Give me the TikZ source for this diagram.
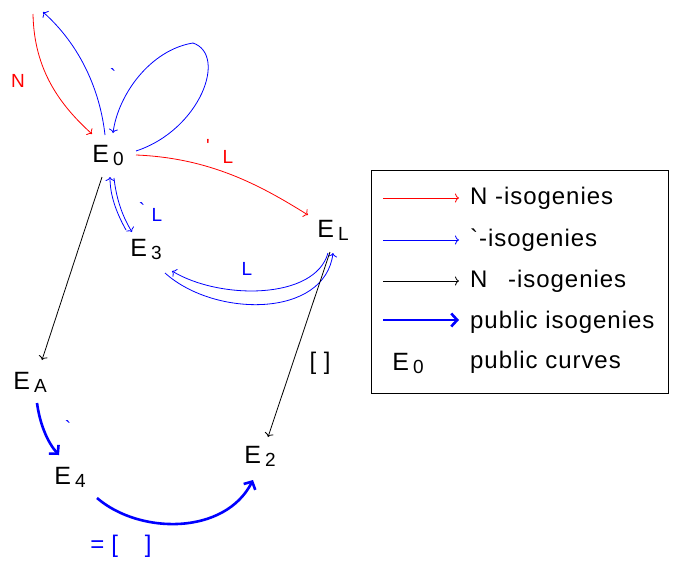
\documentclass[tikz,border=0pt]{standalone}
\usepackage{fontspec}
\newfontfamily\plainfont{Liberation Sans}[LetterSpace=4]
\usetikzlibrary{arrows.meta}
\newcommand\ecurve[1]{E\hspace{4pt}\raisebox{-3pt}{\fontsize{19}{19}\selectfont #1}}
\begin{document}
\begin{tikzpicture}[x=1pt,y=-1pt, font=\plainfont,
  cv/.style={inner sep=0pt, font=\plainfont\fontsize{25}{28}\selectfont},
  lab/.style={inner sep=0pt, font=\plainfont\fontsize{19}{21}\selectfont},
  big/.style={inner sep=0pt, font=\plainfont\fontsize{24}{27}\selectfont},
  leg/.style={inner sep=0pt, anchor=base west, font=\plainfont\fontsize{24}{26}\selectfont},
  thinarr/.style={line width=0.8pt, -{To[length=4pt,width=9pt]}},
  thickarr/.style={line width=2.6pt, -{Straight Barb[length=6pt,width=13pt]}},
  ]
\useasboundingbox (0,0) rectangle (673,570);

% curves
\node[cv] (E0) at (108,155) {\ecurve{0}};
\node[cv] (E3) at (146,249) {\ecurve{3}};
\node[cv] (EL) at (333,230) {\ecurve{L}};
\node[cv] (EA) at (30,382) {\ecurve{A}};
\node[cv] (E4) at (70,477) {\ecurve{4}};
\node[cv] (E2) at (260,456) {\ecurve{2}};

\coordinate (nTop) at (33,14);
\coordinate (lTop) at (43,12);

% red N arrow into E0
\draw[thinarr, red] (nTop) .. controls (34,70) and (60,105) .. ([shift={(-16,-21)}]E0.center);
% blue arrow out of E0 upward
\draw[thinarr, blue] ([shift={(-3,-20)}]E0.center) .. controls (100,90) and (80,45) .. (lTop);
% blue loop
\draw[line width=0.8pt, blue] ([shift={(28,-4)}]E0.center) .. controls (200,130) and (228,55) .. (193,43) coordinate (loopTop);
\draw[thinarr, blue] (loopTop) .. controls (150,50) and (118,95) .. ([shift={(5,-22)}]E0.center);
% red E0 -> EL
\draw[thinarr, red] ([shift={(28,0)}]E0.center) .. controls (210,158) and (260,185) .. ([shift={(-25,-15)}]EL.center);
% blue E0 <-> E3 (parallel)
\draw[thinarr, blue] ([shift={(-20,-19)}]E3.center) .. controls (116,212) and (110,195) .. ([shift={(2,22)}]E0.center);
\draw[thinarr, blue] ([shift={(6,23)}]E0.center) .. controls (116,196) and (121,214) .. ([shift={(-14,-17)}]E3.center);
% blue E3 <-> EL
\draw[thinarr, blue] ([shift={(-5,23)}]EL.center) .. controls (315,300) and (220,300) .. ([shift={(26,22)}]E3.center);
\draw[thinarr, blue] ([shift={(19,24)}]E3.center) .. controls (215,318) and (325,318) .. ([shift={(0,23)}]EL.center);
% black
\draw[thinarr, black] ([shift={(-6,22)}]E0.center) -- ([shift={(12,-22)}]EA.center);
\draw[thinarr, black] ([shift={(-3,22)}]EL.center) -- ([shift={(8,-19)}]E2.center);
% thick public
\draw[thickarr, blue] ([shift={(7,21)}]EA.center) .. controls (40,425) and (48,443) .. ([shift={(-11,-22)}]E4.center);
\draw[thickarr, blue] ([shift={(27,21)}]E4.center) .. controls (140,535) and (225,535) .. ([shift={(-7,24)}]E2.center);

% labels
\node[lab, red] (lN) at (18,81) {N};
\node[lab, blue] (lg1) at (113,76) {`};
\node[lab, red] (lphi) at (208,146) {'};
\node[lab, red] (lL1) at (228,157) {L};
\node[lab, blue] (lg2) at (142,210) {`};
\node[lab, blue] (lL2) at (157,215) {L};
\node[lab, blue] (lL3) at (247,269) {L};
\node[big, black] (lbr) at (320,363) {[ ]};
\node[lab, blue] (lg3) at (68,428) {`};
\node[big, blue] (leq) at (121,546) {=\hspace{7pt}[\hspace{27pt}]};

% legend
\node[draw, line width=0.8pt, minimum width=297pt, minimum height=223pt, inner sep=0pt] (legend) at (519.5,281.5) {};
\coordinate (a1s) at (383,198); \coordinate (a1e) at (459,198);
\coordinate (a2s) at (383,240); \coordinate (a2e) at (459,240);
\coordinate (a3s) at (383,281); \coordinate (a3e) at (459,281);
\coordinate (a4s) at (383,320); \coordinate (a4e) at (459,320);
\draw[thinarr, red] (a1s) -- (a1e);
\draw[thinarr, blue] (a2s) -- (a2e);
\draw[thinarr, black] (a3s) -- (a3e);
\draw[thickarr, blue] (a4s) -- (a4e);
\node[leg] (t1) at (470,204) {N -isogenies};
\node[leg] (t2) at (470,246) {`-isogenies};
\node[leg] (t3) at (470,287) {N\hspace{13pt} -isogenies};
\node[leg] (t4) at (470,328) {public isogenies};
\node[leg] (t5) at (470,368) {public curves};
\node[cv] (legE) at (408,363) {\ecurve{0}};
\end{tikzpicture}
\end{document}
